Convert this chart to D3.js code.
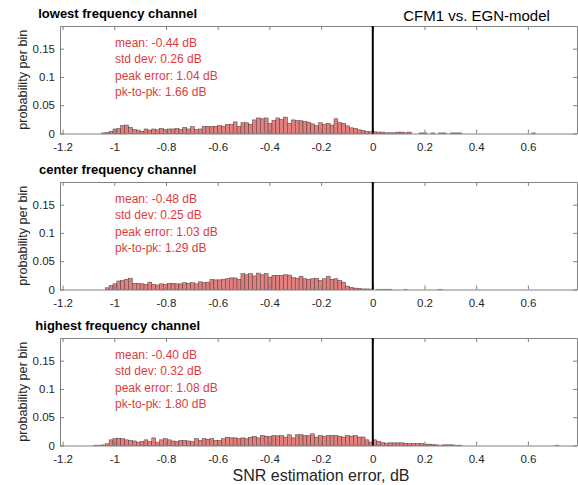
<!DOCTYPE html>
<html>
<head>
<meta charset="utf-8">
<script src="https://cdn.jsdelivr.net/npm/d3@7"></script>
<style>
  body { margin: 0; background: #fff; }
  svg text { font-family: "Liberation Sans", Arial, Helvetica, sans-serif; }
  .axis path, .axis line { stroke: #808080; }
  .axis text { fill: #262626; font-size: 11.5px; }
</style>
</head>
<body>
<svg id="chart" width="578" height="485"></svg>
<script>
// histogram bins: left edge of first bin and bin width (dB)
const binStart = -1.08
const binWidth = 0.015

const panelTitles = ["lowest frequency channel", "center frequency channel", "highest frequency channel"]

const statLines = [
  ["mean: -0.44 dB", "std dev: 0.26 dB", "peak error: 1.04 dB", "pk-to-pk: 1.66 dB"],
  ["mean: -0.48 dB", "std dev: 0.25 dB", "peak error: 1.03 dB", "pk-to-pk: 1.29 dB"],
  ["mean: -0.40 dB", "std dev: 0.32 dB", "peak error: 1.08 dB", "pk-to-pk: 1.80 dB"]
]

// probability per bin
const lowestFreq = [0,
  0, 0.001, 0.0015, 0.004, 0.008, 0.009, 0.014, 0.015, 0.011, 0.007,
  0.006, 0.004, 0.008, 0.006, 0.008, 0.0065, 0.009, 0.007, 0.008, 0.008,
  0.009, 0.007, 0.011, 0.008, 0.012, 0.007, 0.008, 0.0125, 0.0125, 0.0125,
  0.0125, 0.014, 0.013, 0.016, 0.016, 0.0205, 0.0125, 0.019, 0.019, 0.0165,
  0.024, 0.0275, 0.026, 0.0275, 0.018, 0.023, 0.0275, 0.025, 0.029, 0.018,
  0.024, 0.023, 0.0225, 0.021, 0.020, 0.017, 0.014, 0.019, 0.0165, 0.018,
  0.015, 0.026, 0.019, 0.018, 0.0135, 0.010, 0.009, 0.0065, 0.0055, 0.0035,
  0.003, 0.003, 0.0025, 0.0025, 0.0012, 0.0012, 0.0012, 0.0025, 0.0025, 0.0012,
  0.0025, 0, 0, 0.001, 0.001, 0, 0.001, 0, 0.001, 0.001,
  0, 0.001, 0.001, 0.001, 0, 0, 0, 0, 0, 0,
  0, 0, 0, 0, 0, 0, 0, 0, 0, 0,
  0, 0, 0.001]

const centerFreq = [0,
  0, 0, 0.003, 0.007, 0.010, 0.015, 0.016, 0.018, 0.020, 0.011,
  0.011, 0.010, 0.009, 0.013, 0.009, 0.008, 0.010, 0.009, 0.011, 0.011,
  0.010, 0.010, 0.012, 0.011, 0.012, 0.010, 0.0135, 0.012, 0.013, 0.018,
  0.017, 0.017, 0.018, 0.019, 0.0205, 0.0205, 0.018, 0.028, 0.026, 0.028,
  0.024, 0.029, 0.026, 0.028, 0.022, 0.025, 0.025, 0.0247, 0.026, 0.0255,
  0.021, 0.020, 0.0235, 0.019, 0.018, 0.019, 0.020, 0.016, 0.019, 0.0235,
  0.018, 0.019, 0.016, 0.013, 0.006, 0.0035, 0.0025, 0.002, 0.001, 0.001,
  0.0008, 0, 0.0005, 0.0005, 0.0005, 0.0005, 0, 0, 0, 0.0005,
  0, 0, 0, 0, 0, 0, 0, 0, 0.0005]

const highestFreq = [0.0006,
  0.0006, 0.001, 0.003, 0.010, 0.012, 0.013, 0.012, 0.010, 0.009, 0.008,
  0.006, 0.007, 0.010, 0.007, 0.0135, 0.006, 0.010, 0.012, 0.010, 0.008,
  0.007, 0.009, 0.009, 0.008, 0.007, 0.012, 0.009, 0.012, 0.011, 0.012,
  0.009, 0.009, 0.012, 0.0147, 0.0135, 0.0135, 0.012, 0.0135, 0.012, 0.0147,
  0.016, 0.0135, 0.0176, 0.0165, 0.016, 0.0176, 0.017, 0.0176, 0.015, 0.019,
  0.0135, 0.019, 0.019, 0.0176, 0.0176, 0.0206, 0.015, 0.0176, 0.0165, 0.0176,
  0.0176, 0.0176, 0.0165, 0.015, 0.0176, 0.0165, 0.0176, 0.015, 0.015, 0.010,
  0.006, 0.010, 0.0076, 0.005, 0.0041, 0.0047, 0.0047, 0.0047, 0.0047, 0.0041,
  0.0035, 0.0035, 0.0035, 0.0035, 0.0024, 0.0024, 0.0018, 0.0012, 0.0006, 0.0012,
  0.0012, 0.0012, 0.0006, 0.0006, 0, 0, 0, 0, 0, 0,
  0, 0, 0, 0, 0, 0, 0, 0, 0, 0,
  0, 0, 0, 0, 0, 0, 0, 0, 0.0006]

const xTicks = [-1.2, -1, -0.8, -0.6, -0.4, -0.2, 0, 0.2, 0.4, 0.6]
const xTickLabels = ["-1.2", "-1", "-0.8", "-0.6", "-0.4", "-0.2", "0", "0.2", "0.4", "0.6"]
const yTicks = [0, 0.05, 0.1, 0.15]
const yTickLabels = ["0", "0.05", "0.1", "0.15"]

const series = [lowestFreq, centerFreq, highestFreq]

let svg = d3.select("#chart")

let panelTops = [26, 182, 338]
let panelH = 107.5

let x = d3.scaleLinear()
    .domain([-1.21, 0.79])
    .range([60, 577])

series.forEach(function (values, p) {
    let top = panelTops[p]
    let bottom = top + panelH

    let y = d3.scaleLinear()
        .domain([0, 0.19])
        .range([bottom, top])

    let g = svg.append("g")

    let bins = values.map(function (v, i) {
        return { x0: binStart + i * binWidth, x1: binStart + (i + 1) * binWidth, v: v }
    }).filter(d => d.v > 0)

    // bars
    g.append("g")
        .selectAll("rect")
        .data(bins)
        .enter()
        .append("rect")
          .attr("x", d => x(d.x0))
          .attr("width", d => x(d.x1) - x(d.x0))
          .attr("y", d => y(d.v))
          .attr("height", d => y(0) - y(d.v))
          .style("fill", "#e27f7f")
          .style("stroke", "#503838")
          .style("stroke-width", 0.5)

    // axes, box style with inward ticks
    g.append("g")
        .attr("class", "axis")
        .attr("transform", `translate(0,${bottom})`)
        .call(d3.axisBottom(x).tickValues(xTicks).tickSize(-4).tickSizeOuter(0).tickPadding(9.5)
            .tickFormat((d, i) => xTickLabels[i]))

    g.append("g")
        .attr("class", "axis")
        .attr("transform", `translate(0,${top})`)
        .call(d3.axisTop(x).tickValues(xTicks).tickSize(-4).tickSizeOuter(0).tickFormat(""))

    g.append("g")
        .attr("class", "axis")
        .attr("transform", `translate(60,0)`)
        .call(d3.axisLeft(y).tickValues(yTicks).tickSize(-4).tickSizeOuter(0).tickPadding(5)
            .tickFormat((d, i) => yTickLabels[i]))

    g.append("g")
        .attr("class", "axis")
        .attr("transform", `translate(577,0)`)
        .call(d3.axisRight(y).tickValues(yTicks).tickSize(-4).tickSizeOuter(0).tickFormat(""))

    // zero error line
    g.append("line")
        .attr("x1", x(0))
        .attr("x2", x(0))
        .attr("y1", y(0.19))
        .attr("y2", y(0))
        .style("stroke", "#000")
        .style("stroke-width", 2)

    g.append("text")
        .attr("x", 117.7)
        .attr("y", top - 8)
        .attr("text-anchor", "middle")
        .style("font-size", "13px")
        .style("font-weight", "bold")
        .style("fill", "#000")
        .text(panelTitles[p])

    g.append("g")
        .selectAll("text")
        .data(statLines[p])
        .enter()
        .append("text")
          .attr("x", 115)
          .attr("y", (d, i) => top + 21 + i * 16.3)
          .style("font-size", "12px")
          .style("fill", "#dc3c3c")
          .text(d => d)

    g.append("text")
        .attr("transform", `translate(27,${top + panelH / 2}) rotate(-90)`)
        .attr("text-anchor", "middle")
        .style("font-size", "12.7px")
        .style("fill", "#262626")
        .text("probability per bin")
})

svg.append("text")
    .attr("x", 476.5)
    .attr("y", 21)
    .attr("text-anchor", "middle")
    .style("font-size", "15px")
    .style("fill", "#000")
    .text("CFM1 vs. EGN-model")

svg.append("text")
    .attr("x", 321)
    .attr("y", 481)
    .attr("text-anchor", "middle")
    .style("font-size", "16px")
    .style("fill", "#262626")
    .text("SNR estimation error, dB")
</script>
</body>
</html>
